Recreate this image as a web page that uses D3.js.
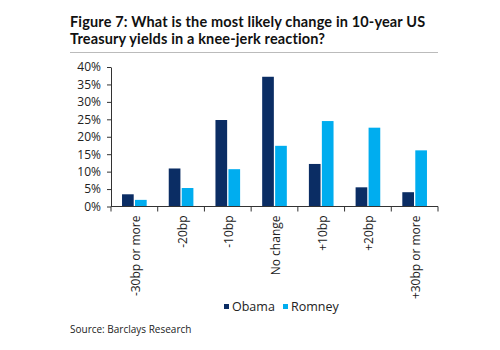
<!DOCTYPE html>
<html>
<head>
<meta charset="utf-8">
<script src="https://cdn.jsdelivr.net/npm/d3@7"></script>
<style>
  body { margin: 0; background: #fff; }
  svg { font-family: "Open Sans", "Noto Sans", sans-serif; }
</style>
</head>
<body>
<div id="chart"></div>
<script>
// chart data
const categories = ["-30bp or more", "-20bp", "-10bp", "No change", "+10bp", "+20bp", "+30bp or more"];
const seriesNames = ["Obama", "Romney"];
const obama = [3.5, 10.9, 24.8, 37.2, 12.2, 5.5, 4.1];
const romney = [1.9, 5.3, 10.7, 17.4, 24.5, 22.6, 16.1];
const yTicks = [0, 5, 10, 15, 20, 25, 30, 35, 40];
const colors = ["#0b2d64", "#00adef"];

const width = 500, height = 350;

const svg = d3.select("#chart")
    .append("svg")
    .attr("width", width)
    .attr("height", height);

// title, two lines (Lato has a tighter line box so the lines don't collide)
const titleLines = ["Figure 7: What is the most likely change in 10-year US",
                    "Treasury yields in a knee-jerk reaction?"];
svg.selectAll(".title")
    .data(titleLines)
    .enter().append("text")
    .attr("class", "title")
    .attr("x", 70)
    .attr("y", (d, i) => 27 + i * 16.5)
    .style("font-family", "Lato, sans-serif")
    .style("font-size", "14.5px")
    .style("font-weight", 700)
    .style("letter-spacing", "0.15px")
    .style("fill", "#111")
    .text(d => d);

svg.append("line")
    .attr("x1", 70).attr("x2", 438)
    .attr("y1", 52.5).attr("y2", 52.5)
    .attr("stroke", "#bbb")
    .attr("stroke-width", 1.2);

// scales
const x = d3.scaleBand()
    .domain(categories)
    .range([111, 438]);

const y = d3.scaleLinear()
    .domain([0, 40])
    .range([206.5, 67]);

const inner = d3.scaleBand()
    .domain(seriesNames)
    .range([0, x.bandwidth()])
    .paddingInner(0.1)
    .paddingOuter(0.85);

// bars
const rows = categories.map((c, i) => ({ cat: c, values: [obama[i], romney[i]] }));

const groups = svg.append("g")
    .selectAll("g")
    .data(rows)
    .enter().append("g")
    .attr("transform", d => "translate(" + x(d.cat) + ",0)");

groups.selectAll("rect")
    .data(d => d.values.map((v, j) => ({ name: seriesNames[j], value: v, j: j })))
    .enter().append("rect")
    .attr("x", d => inner(d.name))
    .attr("width", inner.bandwidth())
    .attr("y", d => y(d.value))
    .attr("height", d => y(0) - y(d.value))
    .attr("fill", d => colors[d.j]);

// y axis
const yAxis = svg.append("g")
    .attr("transform", "translate(111,0)")
    .call(d3.axisLeft(y).tickValues(yTicks).tickFormat(d => d + "%").tickSize(4).tickSizeOuter(0));
yAxis.select(".domain").attr("stroke", "#333");
yAxis.selectAll(".tick line").attr("stroke", "#333");
yAxis.selectAll(".tick text")
    .attr("x", -10)
    .style("font-size", "12px")
    .style("font-family", "Open Sans, sans-serif")
    .attr("fill", "#222");

// x axis with ticks at band boundaries
const xAxisG = svg.append("g")
    .attr("transform", "translate(0," + y(0) + ")");
xAxisG.append("line")
    .attr("x1", 111).attr("x2", 438)
    .attr("stroke", "#333");
const bounds = categories.map(c => x(c)).concat([x(categories[categories.length - 1]) + x.bandwidth()]);
xAxisG.selectAll(".bt")
    .data(bounds)
    .enter().append("line")
    .attr("x1", d => d).attr("x2", d => d)
    .attr("y1", 0).attr("y2", 5)
    .attr("stroke", "#333");

xAxisG.selectAll(".lbl")
    .data(categories)
    .enter().append("text")
    .attr("transform", d => "translate(" + (x(d) + x.bandwidth() / 2 + 5.5) + ",9) rotate(-90)")
    .attr("text-anchor", "end")
    .style("font-size", "12px")
    .attr("fill", "#222")
    .text(d => d);

// legend
const legendX = [224, 283];
const legend = svg.append("g");
seriesNames.forEach((name, i) => {
    legend.append("rect")
        .attr("x", legendX[i])
        .attr("y", 304)
        .attr("width", 5)
        .attr("height", 5)
        .attr("fill", colors[i]);
    legend.append("text")
        .attr("x", legendX[i] + 8)
        .attr("y", 311)
        .style("font-size", "12.5px")
        .attr("fill", "#222")
        .text(name);
});

// source
svg.append("text")
    .attr("x", 70)
    .attr("y", 333)
    .style("font-size", "10px")
    .attr("fill", "#222")
    .text("Source: Barclays Research");
</script>
</body>
</html>
